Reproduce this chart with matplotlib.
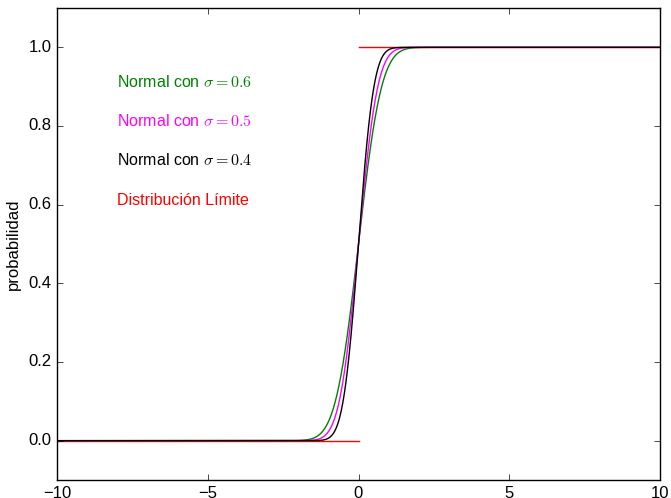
import math
import numpy as np
import matplotlib
matplotlib.use("Agg")
import matplotlib.pyplot as plt

plt.style.use('classic')
plt.rcParams['font.family'] = ['Liberation Sans', 'DejaVu Sans']
plt.rcParams['mathtext.fontset'] = 'cm'

sigmas = [0.6, 0.5, 0.4]
colors = ['green', 'magenta', 'black']
labels = [r'Normal con $\sigma=0.6$', r'Normal con $\sigma=0.5$', r'Normal con $\sigma=0.4$']
label_y = [0.9, 0.8, 0.7]
limit_label = 'Distribución Límite'
limit_x_left = [-10, 0]
limit_y_left = [0, 0]
limit_x_right = [0, 10]
limit_y_right = [1, 1]

fig = plt.figure(figsize=(6.71, 4.98), dpi=100, facecolor='white')
ax = fig.add_axes([57/671, 18/498, 603/671, 472/498])

ax.plot(limit_x_left, limit_y_left, color='red')
ax.plot(limit_x_right, limit_y_right, color='red')

x = np.linspace(-10, 10, 2001)
erf = np.vectorize(math.erf)
for s, c in zip(sigmas, colors):
    y = 0.5 * (1 + erf(x / (s * math.sqrt(2))))
    ax.plot(x, y, color=c)

for lab, yy, c in zip(labels, label_y, colors):
    ax.text(-8, yy, lab, color=c, fontsize=11.5)
ax.text(-8, 0.6, limit_label, color='red', fontsize=11.5)

ax.set_xlim(-10, 10)
ax.set_ylim(-0.1, 1.1)
ax.set_xticks([-10, -5, 0, 5, 10])
ax.set_yticks([0.0, 0.2, 0.4, 0.6, 0.8, 1.0])
ax.set_ylabel('probabilidad')

fig.savefig('out.png', dpi=100, facecolor='white')
